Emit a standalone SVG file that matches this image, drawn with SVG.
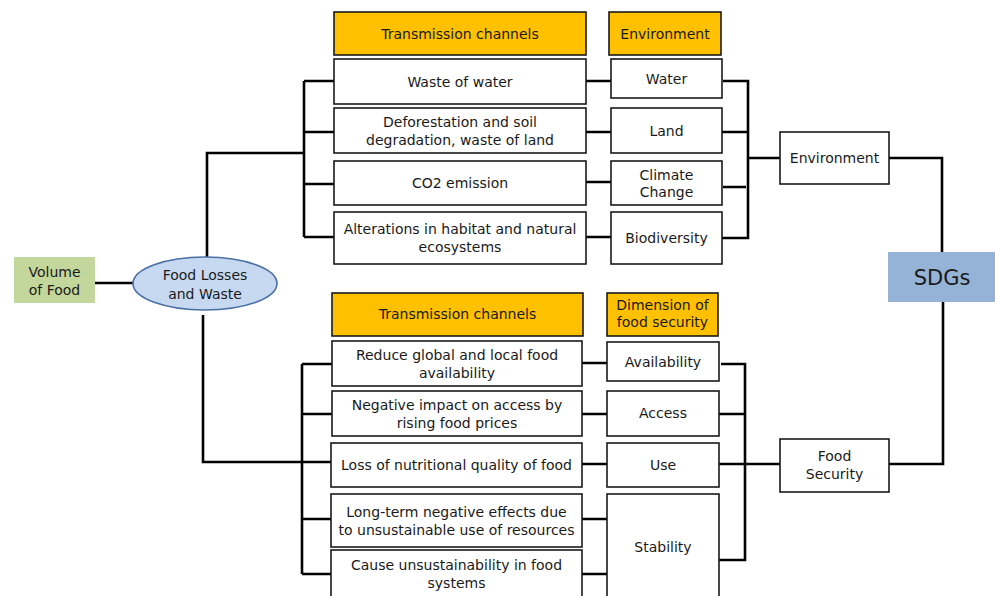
<svg xmlns="http://www.w3.org/2000/svg" width="995" height="596" viewBox="0 0 995 596">
<style>
  .box{fill:#ffffff;stroke:#1a1a1a;stroke-width:1.6}
  .hdr{fill:#ffc000;stroke:#1a1a1a;stroke-width:1.6}
  .t{font-family:"DejaVu Sans",sans-serif;font-size:14px;fill:#1a1a1a;text-anchor:middle}
  .big{font-size:21px}
  .c{fill:none;stroke:#000;stroke-width:2.6}
</style>
<rect width="995" height="596" fill="#ffffff"/>

<g id="connectors">
  <path class="c" d="M95,283 H133"/>
  <path class="c" d="M207,257 V153 H304"/>
  <path class="c" d="M304,81 V237"/>
  <path class="c" d="M304,81 H334 M304,132 H334 M304,184 H334 M304,237 H334"/>
  <path class="c" d="M586,81 H611 M586,132 H611 M586,182 H611 M586,237 H611"/>
  <path class="c" d="M723,81 H748 V238 H721 M722,132 H748 M723,187 H746 M748,158 H780"/>
  <path class="c" d="M889,158 H942 V252"/>
  <path class="c" d="M203,315 V462 H331"/>
  <path class="c" d="M302,364 V574"/>
  <path class="c" d="M302,364 H332 M302,414 H332 M302,519 H332 M302,574 H332"/>
  <path class="c" d="M582,363 H607 M582,414 H607 M582,464 H607 M582,519 H607 M582,574 H607"/>
  <path class="c" d="M721,364 H745 V560 H719 M719,414 H745 M719,464 H780"/>
  <path class="c" d="M889,464 H943 V302"/>
</g>

<g id="volume">
  <rect x="14" y="257" width="81" height="46" fill="#c3d69b"/>
  <text class="t" x="54.5" y="277">Volume</text>
  <text class="t" x="54.5" y="295">of Food</text>
</g>
<g id="flw">
  <ellipse cx="205" cy="283.5" rx="72" ry="26.5" fill="#c6d9f1" stroke="#4a6fa5" stroke-width="1.6"/>
  <text class="t" x="205" y="280">Food Losses</text>
  <text class="t" x="205" y="299">and Waste</text>
</g>

<g id="tc-top-hdr">
  <rect class="hdr" x="334" y="12" width="252" height="43"/>
  <text class="t" x="460" y="39">Transmission channels</text>
</g>
<g id="env-hdr">
  <rect class="hdr" x="609" y="12" width="112" height="43"/>
  <text class="t" x="665" y="39">Environment</text>
</g>
<g id="waste-water">
  <rect class="box" x="334" y="59" width="252" height="45"/>
  <text class="t" x="460" y="87">Waste of water</text>
</g>
<g id="deforestation">
  <rect class="box" x="334" y="108" width="252" height="45"/>
  <text class="t" x="460" y="127">Deforestation and soil</text>
  <text class="t" x="460" y="145">degradation, waste of land</text>
</g>
<g id="co2">
  <rect class="box" x="334" y="161" width="252" height="44"/>
  <text class="t" x="460" y="188">CO2 emission</text>
</g>
<g id="alterations">
  <rect class="box" x="334" y="212" width="252" height="52"/>
  <text class="t" x="460" y="234">Alterations in habitat and natural</text>
  <text class="t" x="460" y="252">ecosystems</text>
</g>
<g id="water">
  <rect class="box" x="611" y="59" width="111" height="39"/>
  <text class="t" x="666.5" y="84">Water</text>
</g>
<g id="land">
  <rect class="box" x="611" y="108" width="111" height="45"/>
  <text class="t" x="666.5" y="136">Land</text>
</g>
<g id="climate">
  <rect class="box" x="611" y="161" width="111" height="44"/>
  <text class="t" x="666.5" y="180">Climate</text>
  <text class="t" x="666.5" y="197">Change</text>
</g>
<g id="biodiversity">
  <rect class="box" x="611" y="212" width="111" height="52"/>
  <text class="t" x="666.5" y="243">Biodiversity</text>
</g>
<g id="environment">
  <rect class="box" x="780" y="132" width="109" height="52"/>
  <text class="t" x="834.5" y="163">Environment</text>
</g>
<g id="sdgs">
  <rect x="888" y="252" width="107" height="50" fill="#95b3d7"/>
  <text class="t big" x="942" y="285">SDGs</text>
</g>

<g id="tc-bottom-hdr">
  <rect class="hdr" x="332" y="293" width="251" height="43"/>
  <text class="t" x="457.5" y="319">Transmission channels</text>
</g>
<g id="dim-hdr">
  <rect class="hdr" x="607" y="293" width="111" height="43"/>
  <text class="t" x="662.5" y="310">Dimension of</text>
  <text class="t" x="662.5" y="327">food security</text>
</g>
<g id="reduce">
  <rect class="box" x="332" y="341" width="250" height="45"/>
  <text class="t" x="457" y="360">Reduce global and local food</text>
  <text class="t" x="457" y="378">availability</text>
</g>
<g id="negative">
  <rect class="box" x="332" y="391" width="250" height="45"/>
  <text class="t" x="457" y="410">Negative impact on access by</text>
  <text class="t" x="457" y="428">rising food prices</text>
</g>
<g id="loss">
  <rect class="box" x="331" y="443" width="251" height="44"/>
  <text class="t" x="456.5" y="470">Loss of nutritional quality of food</text>
</g>
<g id="longterm">
  <rect class="box" x="331" y="494" width="251" height="53"/>
  <text class="t" x="456.5" y="517">Long-term negative effects due</text>
  <text class="t" x="456.5" y="535">to unsustainable use of resources</text>
</g>
<g id="cause">
  <rect class="box" x="331" y="550" width="251" height="60"/>
  <text class="t" x="456.5" y="570">Cause unsustainability in food</text>
  <text class="t" x="456.5" y="588">systems</text>
</g>
<g id="availability">
  <rect class="box" x="607" y="342" width="112" height="39"/>
  <text class="t" x="663" y="367">Availability</text>
</g>
<g id="access">
  <rect class="box" x="607" y="391" width="112" height="45"/>
  <text class="t" x="663" y="418">Access</text>
</g>
<g id="use">
  <rect class="box" x="607" y="443" width="112" height="44"/>
  <text class="t" x="663" y="470">Use</text>
</g>
<g id="stability">
  <rect class="box" x="607" y="494" width="112" height="110"/>
  <text class="t" x="663" y="552">Stability</text>
</g>
<g id="foodsecurity">
  <rect class="box" x="780" y="439" width="109" height="53"/>
  <text class="t" x="834.5" y="461">Food</text>
  <text class="t" x="834.5" y="479">Security</text>
</g>
</svg>
